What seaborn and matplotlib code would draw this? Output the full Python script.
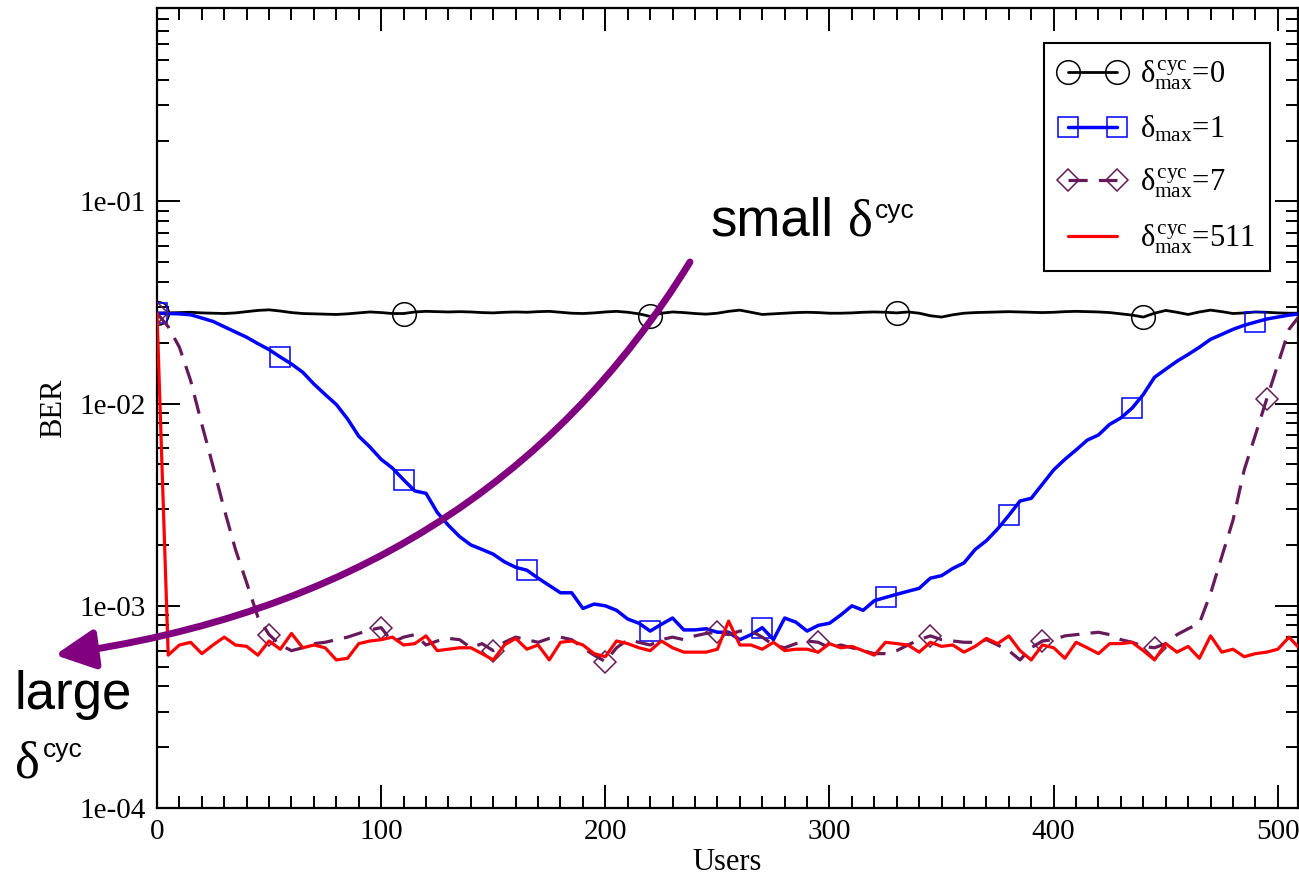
import numpy as np
import matplotlib
matplotlib.use('Agg')
import matplotlib.pyplot as plt
import seaborn as sns
from matplotlib.lines import Line2D
from matplotlib.patches import FancyArrowPatch, ArrowStyle
from matplotlib.path import Path
from matplotlib.ticker import MultipleLocator, LogLocator, FuncFormatter, NullFormatter

# ---------------- data ----------------
users = list(range(0, 511, 5))

ber_d0 = [0.0280, 0.0281, 0.0282, 0.0283, 0.0281, 0.0280, 0.0279, 0.0281, 0.0285, 0.0289,
          0.0291, 0.0287, 0.0282, 0.0279, 0.0278, 0.0277, 0.0276, 0.0278, 0.0281, 0.0284,
          0.0282, 0.0279, 0.0279, 0.0284, 0.0286, 0.0285, 0.0284, 0.0285, 0.0284, 0.0282,
          0.0281, 0.0283, 0.0284, 0.0283, 0.0285, 0.0286, 0.0283, 0.0280, 0.0279, 0.0281,
          0.0284, 0.0286, 0.0283, 0.0278, 0.0270, 0.0280, 0.0284, 0.0282, 0.0279, 0.0277,
          0.0280, 0.0286, 0.0290, 0.0283, 0.0276, 0.0278, 0.0280, 0.0282, 0.0283, 0.0282,
          0.0280, 0.0280, 0.0281, 0.0283, 0.0284, 0.0283, 0.0281, 0.0284, 0.0280, 0.0272,
          0.0268, 0.0275, 0.0280, 0.0282, 0.0283, 0.0284, 0.0285, 0.0284, 0.0283, 0.0282,
          0.0283, 0.0285, 0.0286, 0.0285, 0.0284, 0.0282, 0.0278, 0.0274, 0.0268, 0.0280,
          0.0289, 0.0283, 0.0276, 0.0284, 0.0290, 0.0285, 0.0279, 0.0281, 0.0284, 0.0283,
          0.0281, 0.0280, 0.0280]

ber_d1 = [0.0280, 0.0279, 0.0278, 0.0275, 0.0265, 0.0255, 0.0240, 0.0226, 0.0213, 0.0198,
          0.0185, 0.0170, 0.0157, 0.0143, 0.0125, 0.0111, 0.0099, 0.0084, 0.0069, 0.0061,
          0.0053, 0.0048, 0.0042, 0.0037, 0.0036, 0.0029, 0.0025, 0.0022, 0.0020, 0.0019,
          0.0018, 0.00165, 0.00155, 0.00150, 0.00137, 0.00126, 0.00116, 0.00116, 0.00097, 0.00102,
          0.00100, 0.00095, 0.00086, 0.00082, 0.00075, 0.00081, 0.00087, 0.00076, 0.00076, 0.00077,
          0.00074, 0.00074, 0.00068, 0.00072, 0.00078, 0.00068, 0.00087, 0.00083, 0.00075, 0.00080,
          0.00082, 0.00090, 0.00100, 0.00095, 0.00106, 0.00110, 0.00114, 0.00118, 0.00122, 0.00137,
          0.00141, 0.00153, 0.00163, 0.0019, 0.0021, 0.0024, 0.0028, 0.0033, 0.0034, 0.0040,
          0.0047, 0.0053, 0.0059, 0.0066, 0.0070, 0.0079, 0.0085, 0.0095, 0.0111, 0.0135,
          0.0148, 0.0162, 0.0175, 0.0190, 0.0208, 0.0220, 0.0233, 0.0244, 0.0253, 0.0262,
          0.0268, 0.0274, 0.0278]

ber_d7 = [0.0280, 0.0240, 0.0190, 0.0130, 0.0079, 0.0049, 0.0030, 0.0019, 0.0013, 0.00088,
          0.00072, 0.00064, 0.00060, 0.00062, 0.00065, 0.00066, 0.00068, 0.00070, 0.00073, 0.00076,
          0.00078, 0.00066, 0.00070, 0.00072, 0.00064, 0.00067, 0.00069, 0.00068, 0.00062, 0.00065,
          0.00060, 0.00066, 0.00070, 0.00068, 0.00066, 0.00069, 0.00070, 0.00068, 0.00062, 0.00057,
          0.00053, 0.00062, 0.00068, 0.00066, 0.00064, 0.00068, 0.00070, 0.00068, 0.00071, 0.00073,
          0.00074, 0.00072, 0.00075, 0.00075, 0.00070, 0.00064, 0.00062, 0.00065, 0.00067, 0.00066,
          0.00062, 0.00064, 0.00062, 0.00060, 0.00058, 0.00058, 0.00060, 0.00064, 0.00068, 0.00071,
          0.00068, 0.00067, 0.00066, 0.00066, 0.00068, 0.00064, 0.00060, 0.00054, 0.00062, 0.00067,
          0.00068, 0.00071, 0.00072, 0.00073, 0.00074, 0.00072, 0.00068, 0.00066, 0.00063, 0.00062,
          0.00065, 0.00072, 0.00077, 0.00082, 0.00115, 0.00175, 0.00265, 0.0047, 0.0070, 0.0105,
          0.0156, 0.0233, 0.0275]

ber_d511 = [0.0280, 0.00057, 0.00064, 0.00066, 0.00058, 0.00064, 0.00070, 0.00064, 0.00063, 0.00057,
            0.00067, 0.00061, 0.00073, 0.00062, 0.00064, 0.00062, 0.00054, 0.00055, 0.00065, 0.00067,
            0.00068, 0.00070, 0.00064, 0.00065, 0.00071, 0.00060, 0.00061, 0.00062, 0.00062, 0.00058,
            0.00054, 0.00064, 0.00069, 0.00061, 0.00064, 0.00054, 0.00066, 0.00067, 0.00064, 0.00058,
            0.00056, 0.00067, 0.00065, 0.00062, 0.00060, 0.00067, 0.00062, 0.00059, 0.00059, 0.00059,
            0.00061, 0.00084, 0.00064, 0.00064, 0.00061, 0.00066, 0.00060, 0.00061, 0.00061, 0.00059,
            0.00065, 0.00062, 0.00063, 0.00060, 0.00057, 0.00066, 0.00065, 0.00064, 0.00059, 0.00066,
            0.00063, 0.00064, 0.00059, 0.00063, 0.00069, 0.00065, 0.00071, 0.00060, 0.00054, 0.00064,
            0.00062, 0.00055, 0.00066, 0.00062, 0.00058, 0.00065, 0.00065, 0.00066, 0.00060, 0.00054,
            0.00065, 0.00059, 0.00063, 0.00055, 0.00071, 0.00059, 0.00061, 0.00056, 0.00058, 0.00059,
            0.00061, 0.00070, 0.00061]

mark_d0 = [0, 22, 44, 66, 88]
mark_d1 = [0, 11, 22, 33, 44, 54, 65, 76, 87, 98]
mark_d7 = [0, 10, 20, 30, 40, 50, 59, 69, 79, 89, 99]

legend_labels = [r"$\delta^{\rm cyc}_{\rm max}$=0", r"$\delta_{\rm max}$=1",
                 r"$\delta^{\rm cyc}_{\rm max}$=7", r"$\delta^{\rm cyc}_{\rm max}$=511"]

C0, C1, C7, C511 = 'black', '#0000ff', '#661a5a', '#ff0000'
ARROW = '#800080'

# ---------------- style ----------------
sns.set_theme(style='ticks')
plt.rcParams['font.family'] = ['Liberation Serif', 'DejaVu Serif']
plt.rcParams['text.color'] = 'black'
plt.rcParams['mathtext.fontset'] = 'custom'
plt.rcParams['mathtext.rm'] = 'Liberation Serif'
plt.rcParams['mathtext.it'] = 'Liberation Serif'
plt.rcParams['mathtext.bf'] = 'Liberation Serif:bold'

W, H = 1299, 880
fig = plt.figure(figsize=(W / 100, H / 100), dpi=100)
fig.patch.set_facecolor('white')
ax = fig.add_axes([157 / W, 72 / H, 1141 / W, 800 / H])
ax.set_facecolor('white')
ax.set_yscale('log')

sns.lineplot(x=users, y=ber_d0, ax=ax, color=C0, linewidth=2.0, marker='o', markersize=17,
             markerfacecolor='none', markeredgecolor=C0, markeredgewidth=1.1,
             markevery=mark_d0, zorder=2)
sns.lineplot(x=users, y=ber_d1, ax=ax, color=C1, linewidth=2.5, marker='s', markersize=15,
             markerfacecolor='none', markeredgecolor=C1, markeredgewidth=1.1,
             markevery=mark_d1, zorder=3)
sns.lineplot(x=users, y=ber_d7, ax=ax, color=C7, linewidth=2.3, linestyle=(0, (6, 3.5)),
             marker='D', markersize=11.5, markerfacecolor='none', markeredgecolor=C7,
             markeredgewidth=1.1, markevery=mark_d7, zorder=4)
sns.lineplot(x=users, y=ber_d511, ax=ax, color=C511, linewidth=2.3, zorder=5)

ax.set_xlim(0, 509)
ax.set_ylim(1e-4, 0.905)
ax.xaxis.set_major_locator(MultipleLocator(100))
ax.xaxis.set_minor_locator(MultipleLocator(10))
ax.yaxis.set_major_locator(LogLocator(base=10, numticks=10))
ax.yaxis.set_minor_locator(LogLocator(base=10, subs=np.arange(2, 10), numticks=20))
ax.yaxis.set_major_formatter(FuncFormatter(lambda v, p: f"{v:.0e}"))
ax.yaxis.set_minor_formatter(NullFormatter())
ax.tick_params(which='both', direction='in', top=True, right=True, width=1.4, color='black',
               labelsize=21, labelcolor='black', pad=8)
ax.tick_params(which='major', length=16.5)
ax.tick_params(which='minor', length=8.5)
for s in ax.spines.values():
    s.set_linewidth(1.6)
    s.set_color('black')
    s.set_visible(True)
ax.grid(False)
ax.set_xlabel('Users', fontsize=22, labelpad=2, color='black')
ax.set_ylabel('BER', fontsize=22, labelpad=8, color='black')

handles = [
    Line2D([], [], color=C0, lw=2.0, marker='o', ms=17, mfc='none', mec=C0, mew=1.1),
    Line2D([], [], color=C1, lw=2.5, marker='s', ms=15, mfc='none', mec=C1, mew=1.1),
    Line2D([], [], color=C7, lw=2.3, ls=(0, (6, 3.5)), marker='D', ms=11.5, mfc='none', mec=C7, mew=1.1),
    Line2D([], [], color=C511, lw=2.3),
]
leg = ax.legend(handles=handles, labels=legend_labels, loc='upper right',
                bbox_to_anchor=((1270 - 157) / 1141, (808 - 43) / 800),
                prop={'family': 'Liberation Serif', 'size': 22}, frameon=True, fancybox=False,
                edgecolor='black', framealpha=1, handlelength=2.2, handletextpad=0.45,
                labelspacing=0.72, borderpad=0.5, numpoints=2, borderaxespad=0)
leg.get_frame().set_linewidth(1.5)
for t in leg.get_texts():
    t.set_color('black')

# ---------------- annotations ----------------
def fx(px):
    return px / W

def fy(py):
    return 1 - py / H

verts = [(fx(690), fy(262)), (fx(485), fy(596)), (fx(55), fy(655))]
path = Path(verts, [Path.MOVETO, Path.CURVE3, Path.CURVE3])
arrow = FancyArrowPatch(path=path, arrowstyle=ArrowStyle('-|>', head_length=1.2, head_width=0.6),
                        mutation_scale=20, color=ARROW, lw=5, transform=fig.transFigure, zorder=10)
fig.add_artist(arrow)

tk = dict(va='baseline', ha='left', color='black')
fig.text(fx(710), fy(235), 'small', family='Liberation Sans', fontsize=38, **tk)
fig.text(fx(848), fy(235), 'δ', family='Liberation Serif', fontsize=38, **tk)
fig.text(fx(875), fy(218), 'cyc', family='Liberation Sans', fontsize=19, **tk)
fig.text(fx(15), fy(709), 'large', family='Liberation Sans', fontsize=38, **tk)
fig.text(fx(15), fy(777), 'δ', family='Liberation Serif', fontsize=38, **tk)
fig.text(fx(43), fy(757), 'cyc', family='Liberation Sans', fontsize=19, **tk)

fig.savefig('out.png', dpi=100, facecolor='white')
